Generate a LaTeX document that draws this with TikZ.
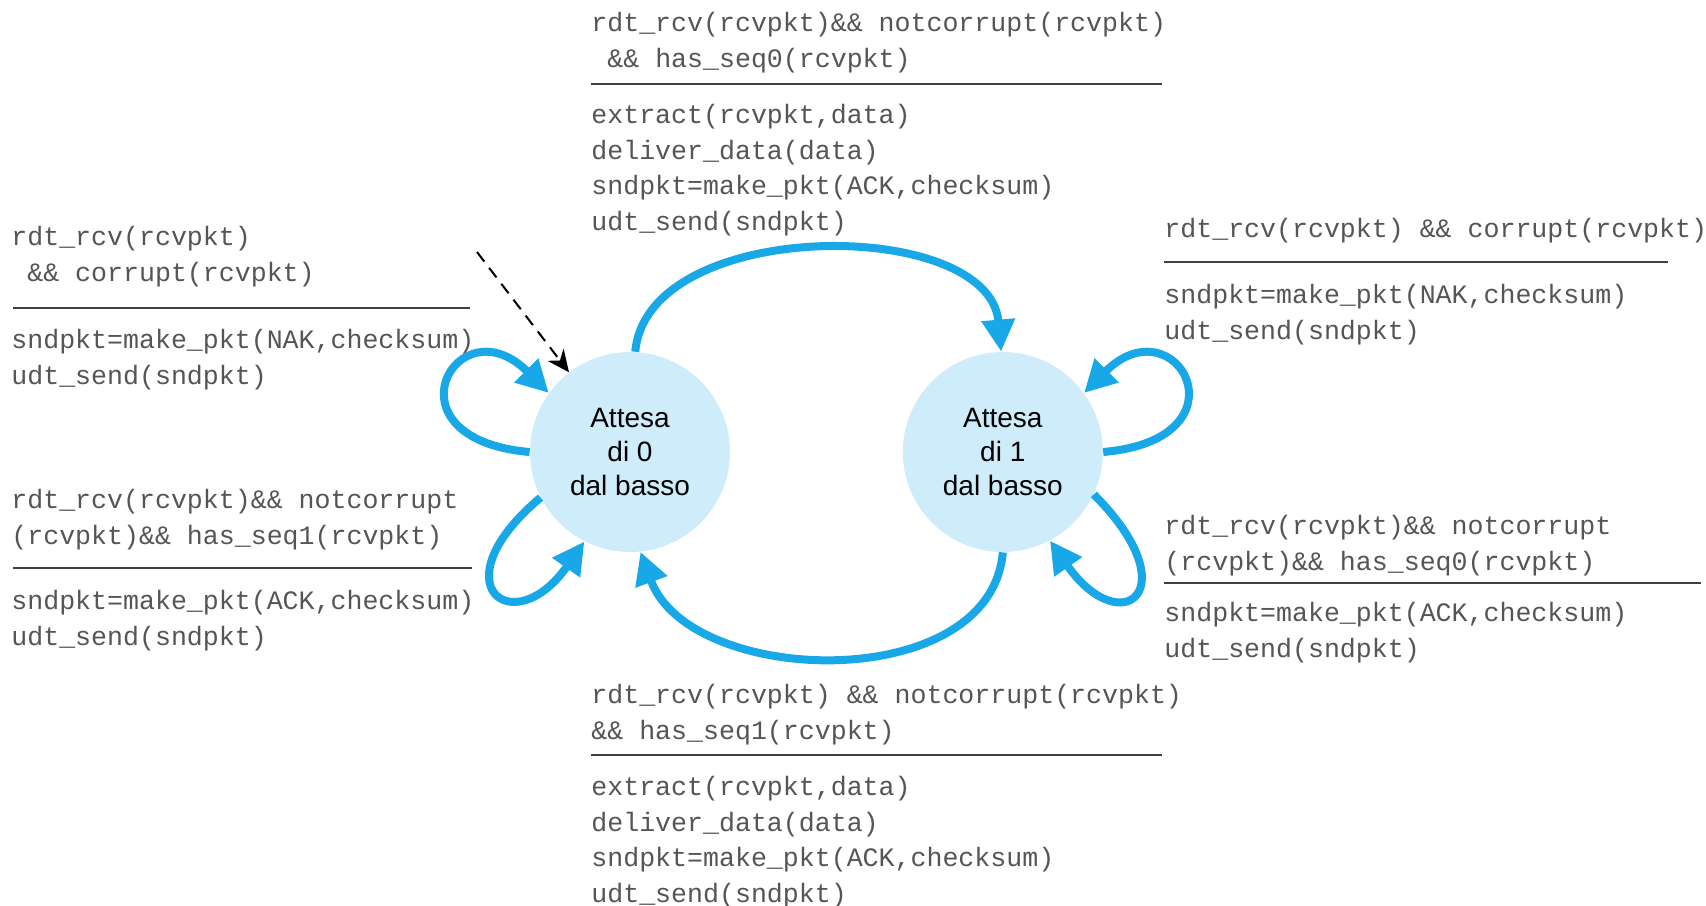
\documentclass[tikz,border=0pt]{standalone}
\usepackage{fontspec}
\setmainfont{Liberation Sans}
\setmonofont{Liberation Mono}
\usetikzlibrary{arrows.meta,positioning}
\definecolor{fsmblue}{RGB}{24,168,232}
\definecolor{statefill}{RGB}{207,236,251}
\definecolor{codegray}{RGB}{85,85,85}

\begin{document}
\begin{tikzpicture}[x=0.5pt,y=0.5pt,
    state/.style={circle,fill=statefill,minimum size=100pt,inner sep=0pt,
                  align=center,font=\fontsize{14}{17}\selectfont},
    trans/.style={color=fsmblue,line width=4pt,
                  -{Triangle[length=16pt,width=16pt]}},
    guard/.style={anchor=south west,inner sep=0pt,align=left,text=codegray,
                  font=\ttfamily\fontsize{13.3}{17.75}\selectfont},
    action/.style={guard,anchor=north west},
    rule/.style={draw=black!75,line width=1pt}]
  \useasboundingbox (0,0) rectangle (1706,-905);

  % states
  \node[state] (S0) at (630,-452) {Attesa\\di 0\\dal basso};
  \node[state] (S1) [right=86pt of S0] {Attesa\\di 1\\dal basso};
  \coordinate (init) at (477,-252);

  % S0 -> S1
  \node[guard] (g01) at (591,-73) {rdt\_rcv(rcvpkt)\&\& notcorrupt(rcvpkt)\\\phantom{x}\&\& has\_seq0(rcvpkt)};
  \draw[rule] (591,-84) -- (1162,-84);
  \node[action] (a01) at (591,-104) {extract(rcvpkt,data)\\deliver\_data(data)\\sndpkt=make\_pkt(ACK,checksum)\\udt\_send(sndpkt)};

  % S1 -> S0
  \node[guard] (g10) at (591,-745) {rdt\_rcv(rcvpkt) \&\& notcorrupt(rcvpkt)\\\&\& has\_seq1(rcvpkt)};
  \draw[rule] (591,-755) -- (1162,-755);
  \node[action] (a10) at (591,-776) {extract(rcvpkt,data)\\deliver\_data(data)\\sndpkt=make\_pkt(ACK,checksum)\\udt\_send(sndpkt)};

  % S0 self loops
  \node[guard] (g00c) at (11,-287) {rdt\_rcv(rcvpkt)\\\phantom{x}\&\& corrupt(rcvpkt)};
  \draw[rule] (13,-308) -- (470,-308);
  \node[action] (a00c) at (11,-329) {sndpkt=make\_pkt(NAK,checksum)\\udt\_send(sndpkt)};

  \node[guard] (g00d) at (11,-550) {rdt\_rcv(rcvpkt)\&\& notcorrupt\\(rcvpkt)\&\& has\_seq1(rcvpkt)};
  \draw[rule] (13,-568) -- (472,-568);
  \node[action] (a00d) at (11,-590) {sndpkt=make\_pkt(ACK,checksum)\\udt\_send(sndpkt)};

  % S1 self loops
  \node[guard] (g11c) at (1164,-243) {rdt\_rcv(rcvpkt) \&\& corrupt(rcvpkt)};
  \draw[rule] (1164,-262) -- (1668,-262);
  \node[action] (a11c) at (1164,-284) {sndpkt=make\_pkt(NAK,checksum)\\udt\_send(sndpkt)};

  \node[guard] (g11d) at (1164,-576) {rdt\_rcv(rcvpkt)\&\& notcorrupt\\(rcvpkt)\&\& has\_seq0(rcvpkt)};
  \draw[rule] (1164,-583) -- (1701,-583);
  \node[action] (a11d) at (1164,-602) {sndpkt=make\_pkt(ACK,checksum)\\udt\_send(sndpkt)};

  % transitions
  \path[trans]
    (S0.87)  edge[out=85,in=95,distance=68pt] (S1.91)
    (S1.270) edge[out=265,in=290,distance=72pt] (S0.276)
    (S0.180) edge[out=175,in=135,out distance=75pt,in distance=65pt] (S0.144)
    (S0.207) edge[out=220,in=235,out distance=68pt,in distance=62pt] (S0.243)
    (S1.0)   edge[out=5,in=45,out distance=75pt,in distance=65pt] (S1.36)
    (S1.335) edge[out=315,in=305,out distance=68pt,in distance=62pt] (S1.298);
  \draw[dashed,line width=1pt,dash pattern=on 6pt off 4pt,
        -{Stealth[length=11pt,width=10pt]}] (init) -- (S0);
\end{tikzpicture}
\end{document}
